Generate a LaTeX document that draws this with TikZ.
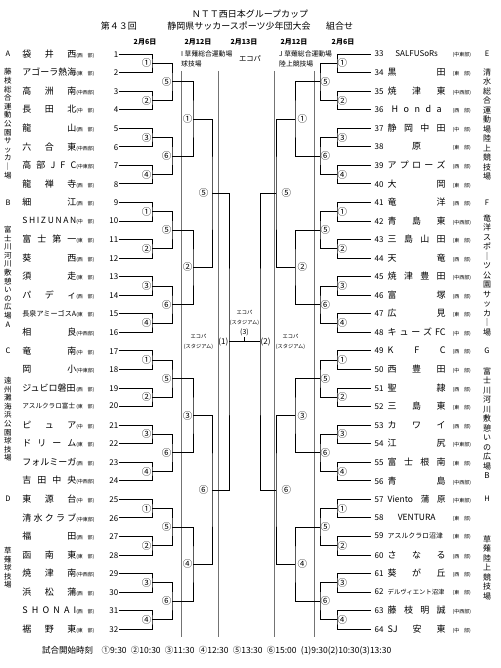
\documentclass[tikz,border=0pt]{standalone}
\usepackage{fontspec}
\setmainfont{Noto Sans CJK JP}
\usetikzlibrary{calc, positioning}

% team entries: name (spread), region, number
\newcommand{\rgn}[1]{\makebox[18pt][s]{\fontsize{5}{5.5}\selectfont(#1)}}
\newcommand{\tno}[1]{{\fontsize{8}{9}\selectfont #1}}
\newcommand{\tL}[3]{\makebox[54pt][s]{#1}\rgn{#2}\makebox[24pt][r]{\tno{#3}}}
\newcommand{\tR}[3]{\makebox[17pt][l]{\hspace{4pt}\tno{#3}}\makebox[58pt][s]{#1}\makebox[32pt]{\rgn{#2}}}

% one match: upper, lower, x of the bar, name, label
\newcommand{\mL}[6][]{%
  \coordinate (#5m) at ($(#2)!0.5!(#3)$);
  \coordinate (#5) at (#4,0 |- #5m);
  \draw[bline] (#2) -| (#5) |- (#3);
  \node[rnd, anchor=east, #1] (#5-n) at (#5) {#6};}
\newcommand{\mR}[6][]{%
  \coordinate (#5m) at ($(#2)!0.5!(#3)$);
  \coordinate (#5) at (#4,0 |- #5m);
  \draw[bline] (#2) -| (#5) |- (#3);
  \node[rnd, anchor=west, #1] (#5-n) at (#5) {#6};}

\begin{document}
\begin{tikzpicture}[x=1pt, y=-1pt,
    bline/.style={line width=0.8pt},
    sep/.style={line width=0.4pt, black!55},
    rnd/.style={inner sep=0.5pt, font=\fontsize{9.5}{9.5}\selectfont},
    teamL/.style={anchor=east, inner sep=0pt, font=\fontsize{9}{10}\selectfont},
    teamR/.style={anchor=west, inner sep=0pt, font=\fontsize{9}{10}\selectfont},
    vtext/.style={anchor=north, align=center, inner sep=0pt, font=\fontsize{7.5}{8.6}\selectfont},
    vtextR/.style={vtext, font=\fontsize{8}{9.5}\selectfont},
    grp/.style={inner sep=0pt, font=\fontsize{7.5}{8}\selectfont},
    head/.style={inner sep=0pt, font=\fontsize{9}{10}\selectfont},
    date/.style={inner sep=0pt, font=\fontsize{7}{8}\selectfont\bfseries},
    venue/.style={anchor=north west, align=left, inner sep=0pt, font=\fontsize{6.8}{9.5}\selectfont},
    stadium/.style={align=center, inner sep=0.5pt, font=\fontsize{5.2}{10}\selectfont}
]
\useasboundingbox[fill=white] (0,0) rectangle (500,668);

% header
\node[head] (title) at (250,14) {ＮＴＴ西日本グループカップ};
\node[head] (sub) at (239,26) {静岡県サッカースポーツ少年団大会};
\node[head] (kai) [left=30pt of sub] {第４３回};
\node[head] (kumi) [right=15pt of sub] {組合せ};
\node[date] (d1) at (145,42) {2月6日};
\node[date] (d2) at (198,42) {2月12日};
\node[date] (d3) at (244,42) {2月13日};
\node[date] (d4) at (294,42) {2月12日};
\node[date] (d5) at (343,42) {2月6日};
\node[venue] (vi) at (181,51) {I 草薙総合運動場\\球技場};
\node[venue] (vj) at (279,51) {J 草薙総合運動場\\陸上競技場};
\node[inner sep=0pt, font=\fontsize{7.3}{8}\selectfont] (veco) at (250,59) {エコパ};

% day lines
\draw[sep] (181,71) -- (181,637);
\draw[sep] (218,71) -- (218,637);
\draw[sep] (274,71) -- (274,637);
\draw[sep] (314,71) -- (314,637);

% venues
\node[grp] (ga) at (8,54) {A};
\node[vtext] (va) at (8,68.5) {藤\\枝\\総\\合\\運\\動\\公\\園\\サ\\ッ\\カ\\｜\\場};
\node[grp] (gb) at (8,202.4) {B};
\node[vtext] (vb) at (8,226) {富\\士\\川\\河\\川\\敷\\憩\\い\\の\\広\\場\\A};
\node[grp] (gc) at (8,350.8) {C};
\node[vtext] (vc) at (8,377) {遠\\州\\灘\\海\\浜\\公\\園\\球\\技\\場};
\node[grp] (gd) at (8,499.2) {D};
\node[vtext] (vd) at (8,547) {草\\薙\\球\\技\\場};
\node[grp] (ge) at (487,54) {E};
\node[vtextR] (ve) at (487,68.5) {清\\水\\総\\合\\運\\動\\場\\陸\\上\\競\\技\\場};
\node[grp] (gf) at (487,202.4) {F};
\node[vtextR] (vf) at (487,214.5) {竜\\洋\\ス\\ポ\\｜\\ツ\\公\\園\\サ\\ッ\\カ\\｜\\場};
\node[grp] (gg) at (487,350.8) {G};
\node[vtextR] (vg) at (487,367.5) {富\\士\\川\\河\\川\\敷\\憩\\い\\の\\広\\場\\B};
\node[grp] (gh) at (487,499.2) {H};
\node[vtextR] (vh) at (487,535.5) {草\\薙\\陸\\上\\競\\技\\場};

% left teams
\node[teamL] (t1) at (118.5,54) {\tL{袋 井 西}{西 部}{1}};
\node[teamL] (t2) at (118.5,72.6) {\tL{アゴーラ熱海}{東 部}{2}};
\node[teamL] (t3) at (118.5,91.1) {\tL{高 洲 南}{中西部}{3}};
\node[teamL] (t4) at (118.5,109.7) {\tL{長 田 北}{中 部}{4}};
\node[teamL] (t5) at (118.5,128.2) {\tL{龍 山}{西 部}{5}};
\node[teamL] (t6) at (118.5,146.8) {\tL{六 合 東}{中西部}{6}};
\node[teamL] (t7) at (118.5,165.3) {\tL{高 部 J F C}{中東部}{7}};
\node[teamL] (t8) at (118.5,183.9) {\tL{龍 禅 寺}{西 部}{8}};
\node[teamL] (t9) at (118.5,202.4) {\tL{細 江}{西 部}{9}};
\node[teamL] (t10) at (118.5,221) {\tL{\fontsize{8.5}{9}\selectfont S H I Z U N A N}{中 部}{10}};
\node[teamL] (t11) at (118.5,239.5) {\tL{富 士 第 一}{東 部}{11}};
\node[teamL] (t12) at (118.5,258.1) {\tL{葵 西}{西 部}{12}};
\node[teamL] (t13) at (118.5,276.6) {\tL{須 走}{東 部}{13}};
\node[teamL] (t14) at (118.5,295.2) {\tL{パ デ ィ}{西 部}{14}};
\node[teamL] (t15) at (118.5,313.7) {\tL{\fontsize{7.1}{8}\selectfont 長泉アミーゴスA}{東 部}{15}};
\node[teamL] (t16) at (118.5,332.3) {\tL{相 良}{中西部}{16}};
\node[teamL] (t17) at (118.5,350.8) {\tL{竜 南}{中 部}{17}};
\node[teamL] (t18) at (118.5,369.4) {\tL{岡 小}{中東部}{18}};
\node[teamL] (t19) at (118.5,387.9) {\tL{ジュビロ磐田}{西 部}{19}};
\node[teamL] (t20) at (118.5,406.5) {\tL{\fontsize{6.6}{7}\selectfont アスルクラロ富士}{東 部}{20}};
\node[teamL] (t21) at (118.5,425) {\tL{ピ ュ ア}{中 部}{21}};
\node[teamL] (t22) at (118.5,443.6) {\tL{ド リ ー ム}{東 部}{22}};
\node[teamL] (t23) at (118.5,462.1) {\tL{フォルミーガ}{西 部}{23}};
\node[teamL] (t24) at (118.5,480.7) {\tL{吉 田 中 央}{中西部}{24}};
\node[teamL] (t25) at (118.5,499.2) {\tL{東 源 台}{中 部}{25}};
\node[teamL] (t26) at (118.5,517.8) {\tL{清 水 ク ラ ブ}{中東部}{26}};
\node[teamL] (t27) at (118.5,536.3) {\tL{福 田}{西 部}{27}};
\node[teamL] (t28) at (118.5,554.9) {\tL{函 南 東}{東 部}{28}};
\node[teamL] (t29) at (118.5,573.4) {\tL{焼 津 南}{中西部}{29}};
\node[teamL] (t30) at (118.5,592) {\tL{浜 松 蒲}{西 部}{30}};
\node[teamL] (t31) at (118.5,610.5) {\tL{S H O N A I}{西 部}{31}};
\node[teamL] (t32) at (118.5,629.1) {\tL{裾 野 東}{東 部}{32}};

% right teams
\node[teamR] (t33) at (370.5,54) {\tR{\fontsize{8}{9}\selectfont\hfill SALFUSoRs\hfill}{中東部}{33}};
\node[teamR] (t34) at (370.5,72.6) {\tR{黒 田}{東 部}{34}};
\node[teamR] (t35) at (370.5,91.1) {\tR{焼 津 東}{中西部}{35}};
\node[teamR] (t36) at (370.5,109.7) {\tR{\hspace{4pt}H o n d a\hspace{4pt}}{西 部}{36}};
\node[teamR] (t37) at (370.5,128.2) {\tR{静 岡 中 田}{中 部}{37}};
\node[teamR] (t38) at (370.5,146.8) {\tR{\hfill 原\hfill}{東 部}{38}};
\node[teamR] (t39) at (370.5,165.3) {\tR{ア プ ロ ー ズ}{西 部}{39}};
\node[teamR] (t40) at (370.5,183.9) {\tR{大 岡}{東 部}{40}};
\node[teamR] (t41) at (370.5,202.4) {\tR{竜 洋}{西 部}{41}};
\node[teamR] (t42) at (370.5,221) {\tR{青 島 東}{中西部}{42}};
\node[teamR] (t43) at (370.5,239.5) {\tR{三 島 山 田}{東 部}{43}};
\node[teamR] (t44) at (370.5,258.1) {\tR{天 竜}{西 部}{44}};
\node[teamR] (t45) at (370.5,276.6) {\tR{焼 津 豊 田}{中西部}{45}};
\node[teamR] (t46) at (370.5,295.2) {\tR{富 塚}{西 部}{46}};
\node[teamR] (t47) at (370.5,313.7) {\tR{広 見}{東 部}{47}};
\node[teamR] (t48) at (370.5,332.3) {\tR{キ ュ ー ズ FC}{中 部}{48}};
\node[teamR] (t49) at (370.5,350.8) {\tR{K F C}{西 部}{49}};
\node[teamR] (t50) at (370.5,369.4) {\tR{西 豊 田}{中 部}{50}};
\node[teamR] (t51) at (370.5,387.9) {\tR{聖 隷}{西 部}{51}};
\node[teamR] (t52) at (370.5,406.5) {\tR{三 島 東}{東 部}{52}};
\node[teamR] (t53) at (370.5,425) {\tR{カ ワ イ}{西 部}{53}};
\node[teamR] (t54) at (370.5,443.6) {\tR{江 尻}{中東部}{54}};
\node[teamR] (t55) at (370.5,462.1) {\tR{富 士 根 南}{東 部}{55}};
\node[teamR] (t56) at (370.5,480.7) {\tR{青 島}{中西部}{56}};
\node[teamR] (t57) at (370.5,499.2) {\tR{\fontsize{8.5}{9}\selectfont Viento 蒲 原}{中東部}{57}};
\node[teamR] (t58) at (370.5,517.8) {\tR{\fontsize{8.5}{9}\selectfont\hfill VENTURA\hfill}{東 部}{58}};
\node[teamR] (t59) at (370.5,536.3) {\tR{\fontsize{6.9}{7}\selectfont アスルクラロ沼津}{東 部}{59}};
\node[teamR] (t60) at (370.5,554.9) {\tR{さ な る}{西 部}{60}};
\node[teamR] (t61) at (370.5,573.4) {\tR{葵 が 丘}{西 部}{61}};
\node[teamR] (t62) at (370.5,592) {\tR{\fontsize{6.3}{7}\selectfont デルヴィエント沼津}{東 部}{62}};
\node[teamR] (t63) at (370.5,610.5) {\tR{藤 枝 明 誠}{中西部}{63}};
\node[teamR] (t64) at (370.5,629.1) {\tR{SJ 安 東}{中 部}{64}};

% left bracket
\mL{t1.east}{t2.east}{152}{a1}{①}
\mL{t3.east}{t4.east}{152}{a2}{②}
\mL{t5.east}{t6.east}{152}{a3}{③}
\mL{t7.east}{t8.east}{152}{a4}{④}
\mL{a1}{a2}{172}{a5}{⑤}
\mL{a3}{a4}{172}{a6}{⑥}
\mL{a5}{a6}{193}{aw}{①}
\mL{t9.east}{t10.east}{152}{b1}{①}
\mL{t11.east}{t12.east}{152}{b2}{②}
\mL{t13.east}{t14.east}{152}{b3}{③}
\mL{t15.east}{t16.east}{152}{b4}{④}
\mL{b1}{b2}{172}{b5}{⑤}
\mL{b3}{b4}{172}{b6}{⑥}
\mL{b5}{b6}{193}{bw}{②}
\mL{t17.east}{t18.east}{152}{c1}{①}
\mL{t19.east}{t20.east}{152}{c2}{②}
\mL{t21.east}{t22.east}{152}{c3}{③}
\mL{t23.east}{t24.east}{152}{c4}{④}
\mL{c1}{c2}{172}{c5}{⑤}
\mL{c3}{c4}{172}{c6}{⑥}
\mL{c5}{c6}{193}{cw}{③}
\mL{t25.east}{t26.east}{152}{d1}{①}
\mL{t27.east}{t28.east}{152}{d2}{②}
\mL{t29.east}{t30.east}{152}{d3}{③}
\mL{t31.east}{t32.east}{152}{d4}{④}
\mL{d1}{d2}{172}{d5}{⑤}
\mL{d3}{d4}{172}{d6}{⑥}
\mL{d5}{d6}{193}{dw}{④}
\mL[xshift=-3pt]{aw}{bw}{212}{ab}{⑤}
\mL[xshift=-3pt]{cw}{dw}{212}{cd}{⑥}
\mL{ab}{cd}{229}{s1}{\fontsize{8}{8}\selectfont(1)}

% right bracket
\mR{t33.west}{t34.west}{337}{e1}{①}
\mR{t35.west}{t36.west}{337}{e2}{②}
\mR{t37.west}{t38.west}{337}{e3}{③}
\mR{t39.west}{t40.west}{337}{e4}{④}
\mR{e1}{e2}{320}{e5}{⑤}
\mR{e3}{e4}{320}{e6}{⑥}
\mR[xshift=2pt]{e5}{e6}{295}{ew}{①}
\mR{t41.west}{t42.west}{337}{f1}{①}
\mR{t43.west}{t44.west}{337}{f2}{②}
\mR{t45.west}{t46.west}{337}{f3}{③}
\mR{t47.west}{t48.west}{337}{f4}{④}
\mR{f1}{f2}{320}{f5}{⑤}
\mR{f3}{f4}{320}{f6}{⑥}
\mR[xshift=2pt]{f5}{f6}{295}{fw}{②}
\mR{t49.west}{t50.west}{337}{g1}{①}
\mR{t51.west}{t52.west}{337}{g2}{②}
\mR{t53.west}{t54.west}{337}{g3}{③}
\mR{t55.west}{t56.west}{337}{g4}{④}
\mR{g1}{g2}{320}{g5}{⑤}
\mR{g3}{g4}{320}{g6}{⑥}
\mR[xshift=2pt]{g5}{g6}{295}{gw}{③}
\mR{t57.west}{t58.west}{337}{h1}{①}
\mR{t59.west}{t60.west}{337}{h2}{②}
\mR{t61.west}{t62.west}{337}{h3}{③}
\mR{t63.west}{t64.west}{337}{h4}{④}
\mR{h1}{h2}{320}{h5}{⑤}
\mR{h3}{h4}{320}{h6}{⑥}
\mR[xshift=2pt]{h5}{h6}{295}{hw}{④}
\mR[xshift=5pt]{ew}{fw}{276}{ef}{⑤}
\mR[xshift=5pt]{gw}{hw}{276}{gh}{⑥}
\mR{ef}{gh}{260}{s2}{\fontsize{8}{8}\selectfont(2)}

% final
\draw[bline] (s1) -- (s2);
\coordinate (fin) at ($(s1)!0.5!(s2)$);
\draw[bline] (fin) -- ++(0,-5) coordinate (fintop);
\node[stadium, anchor=south] (finl) at (fintop) {エコパ\\(スタジアム)\\{\fontsize{7}{7}\selectfont (3)}};
\node[stadium] (sl1) [left=4pt of s1-n] {エコパ\\(スタジアム)};
\node[stadium] (sl2) [right=4pt of s2-n] {エコパ\\(スタジアム)};

% start times
\node[anchor=west, inner sep=0pt, font=\fontsize{8.5}{9}\selectfont] (times) at (42,651) {試合開始時刻\quad ①9:30\enspace ②10:30\enspace ③11:30\enspace ④12:30\enspace ⑤13:30\enspace ⑥15:00\enspace (1)9:30(2)10:30(3)13:30};
\end{tikzpicture}
\end{document}
